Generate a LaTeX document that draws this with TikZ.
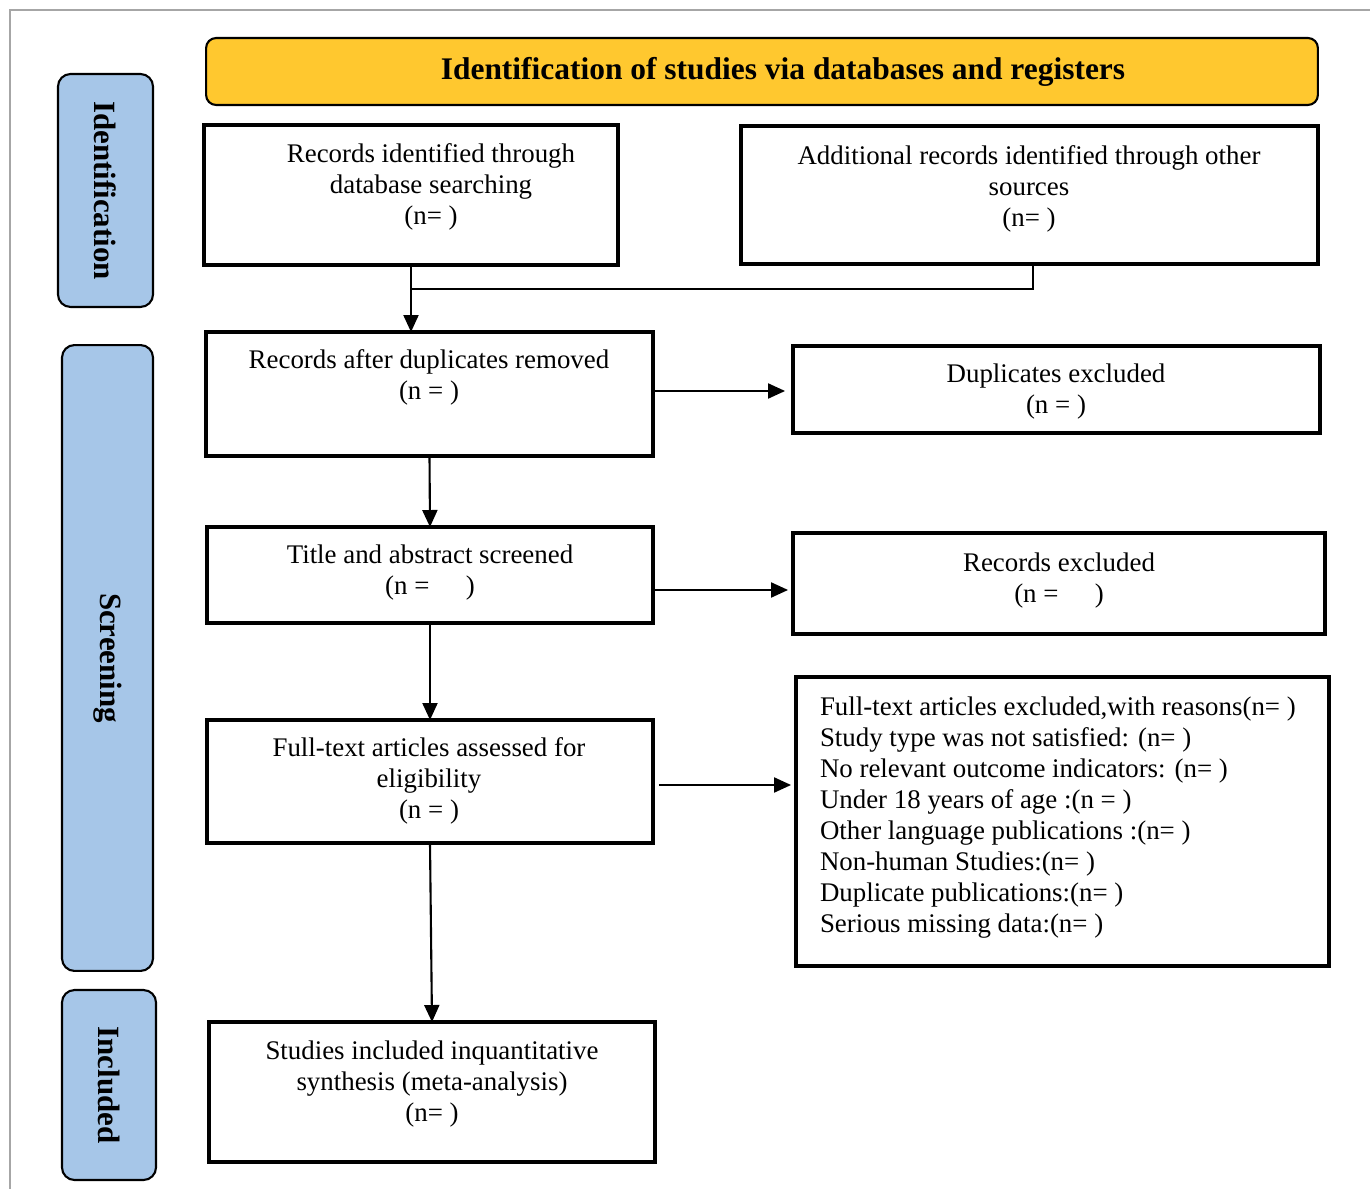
\documentclass[tikz,border=0pt]{standalone}
\usepackage{fontspec}
\setmainfont{Liberation Serif}
\usetikzlibrary{arrows.meta,positioning}
\definecolor{hdColor}{HTML}{FFC82F}
\definecolor{sideColor}{HTML}{A6C6E8}
\tikzset{
	box/.style={draw, line width=2pt, inner sep=0, outer sep=0},
	txt/.style={inner sep=0, outer sep=0, align=center},
	side/.style={draw, line width=1.2pt, fill=sideColor, rounded corners=2.5mm, rotate=-90,
		inner sep=0, font=\fontsize{17.6}{20}\selectfont\bfseries},
	conn/.style={line width=1.2pt},
	frame/.style={draw=black!35, line width=0.6pt}
}
\newcommand{\nn}{(n= )}

\begin{document}
\begin{tikzpicture}[x=0.02cm, y=-0.02cm, >={Triangle[length=0.34cm,width=0.3cm]},
		font=\fontsize{15.3}{17.6}\selectfont]
	\useasboundingbox (0,0) rectangle (1370,1189);
	\draw[frame] (10,1189) -- (10,10) -- (1370,10);
	% header
	\node[box, line width=1.2pt, fill=hdColor, rounded corners=2mm, minimum width=22.24cm, minimum height=1.34cm] (hd) at (762,71.5) {};
	\node[txt, font=\fontsize{17.9}{20}\selectfont\bfseries] (hd_t) at (783,72) {Identification of studies via databases and registers};
	% phase labels
	\node[side, minimum width=4.66cm, minimum height=1.9cm] (ident) at (105.5,190.5) {Identification};
	\node[side, minimum width=12.52cm, minimum height=1.82cm] (scr) at (107.5,658) {Screening};
	\node[side, minimum width=3.8cm, minimum height=1.88cm] (inc) at (109,1085) {Included};
	% boxes
	\node[box, minimum width=8.28cm, minimum height=2.8cm] (recdb) at (411,195) {};
	\node[txt] (recdb_t) at (431,187) {Records identified through\\database searching\\\nn};
	\node[box, minimum width=11.54cm, minimum height=2.76cm] (recoth) at (1029.5,195) {};
	\node[txt] (recoth_t) at (1029,189) {Additional records identified through other\\sources\\\nn};
	\node[box, minimum width=8.94cm, minimum height=2.48cm] (dedup) at (429.5,394) {};
	\node[txt] (dedup_t) at (429,377.5) {Records after duplicates removed\\(n = )};
	\node[box, minimum width=10.54cm, minimum height=1.74cm] (dupex) at (1056.5,389.5) {};
	\node[txt] (dupex_t) at (1056,391.5) {Duplicates excluded\\(n = )};
	\node[box, minimum width=8.92cm, minimum height=1.92cm] (screen) at (430,575) {};
	\node[txt] (screen_t) at (430,572.5) {Title and abstract screened\\(n = \hspace{1.1em})};
	\node[box, minimum width=10.64cm, minimum height=2.02cm] (recex) at (1059,583.5) {};
	\node[txt] (recex_t) at (1059,580.5) {Records excluded\\(n = \hspace{1.1em})};
	\node[box, minimum width=8.92cm, minimum height=2.46cm] (full) at (430,781.5) {};
	\node[txt] (full_t) at (429,781) {Full-text articles assessed for\\eligibility\\(n = )};
	\node[box, minimum width=10.66cm, minimum height=5.78cm] (fullex) at (1062.5,821.5) {};
	\node[txt, align=left, anchor=west] (fullex_t) at (820,817.5) {Full-text articles excluded,with reasons\nn\\
		Study type was not satisfied: \nn\\
		No relevant outcome indicators: \nn\\
		Under 18 years of age :(n = )\\
		Other language publications :\nn\\
		Non-human Studies:\nn\\
		Duplicate publications:\nn\\
		Serious missing data:\nn};
	\node[box, minimum width=8.92cm, minimum height=2.8cm] (incl) at (432,1092) {};
	\node[txt] (incl_t) at (432,1084) {Studies included inquantitative\\synthesis (meta-analysis)\\\nn};
	% connectors
	\coordinate (merge) at (411,289);
	\draw[conn] ([xshift=0.07cm]recoth.south) |- (merge);
	\draw[conn,->] (recdb.south) -- (recdb.south |- dedup.north);
	\draw[conn,->,shorten >=0.16cm] ([yshift=0.06cm]dedup.east) -- ([yshift=0.06cm]dedup.east -| dupex.west);
	\draw[conn,->] (dedup.south) -- (screen.north);
	\draw[conn,->,shorten >=0.1cm] ([yshift=-0.3cm]screen.east) -- ([yshift=-0.3cm]screen.east -| recex.west);
	\draw[conn,->] (screen.south) -- (full.north);
	\draw[conn,->,shorten <=0.12cm,shorten >=0.1cm] ([yshift=-0.07cm]full.east) -- ([yshift=-0.07cm]full.east -| fullex.west);
	\draw[conn,->] (full.south) -- (incl.north);
\end{tikzpicture}
\end{document}
